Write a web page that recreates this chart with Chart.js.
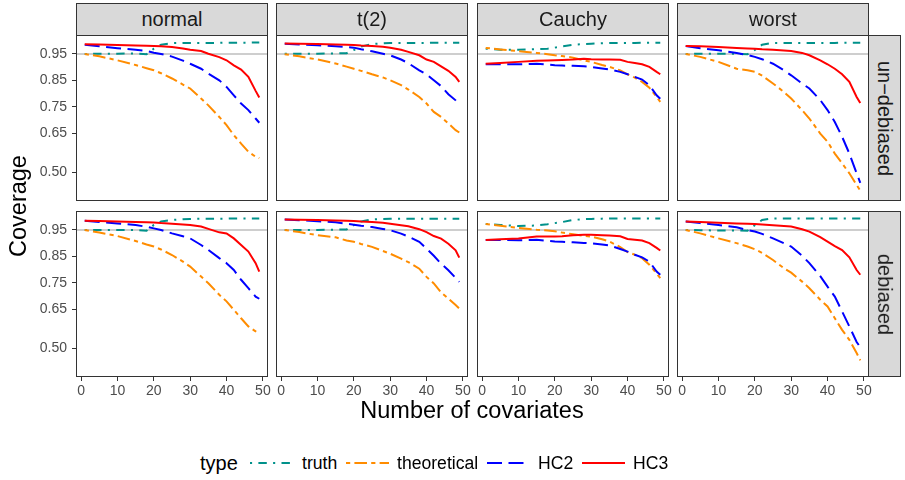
<!DOCTYPE html>
<html>
<head>
<meta charset="utf-8">
<script src="https://cdn.jsdelivr.net/npm/chart.js@4.4.0/dist/chart.umd.min.js"></script>
<style>
  body { margin: 0; background: #fff; font-family: "Liberation Sans", Arial, sans-serif; }
  #wrap { position: relative; width: 905px; height: 480px; overflow: hidden; }
  canvas { position: absolute; }
  .strip { position: absolute; box-sizing: border-box; background: #d9d9d9; border: 1px solid #333;
           display: flex; align-items: center; justify-content: center; color: #1a1a1a; font-size: 20px; }
  .vtext { transform: rotate(90deg); white-space: nowrap; }
  .lab { position: absolute; white-space: nowrap; color: #000; }
</style>
</head>
<body>
<div id="wrap"></div>
<script>
// x positions (number of covariates) at which values were read
const covariates = [1, 5, 10, 15, 18, 20, 22, 25, 28, 30, 33, 35, 38, 40, 42, 44, 46, 48, 49];
const xTicks = [0, 10, 20, 30, 40, 50];
const yTicks = [0.50, 0.65, 0.75, 0.85, 0.95];
const refLine = 0.95;

const columns = ['normal', 't(2)', 'Cauchy', 'worst'];
const rows = ['un\u2212debiased', 'debiased'];
const types = ['truth', 'theoretical', 'HC2', 'HC3'];

// un-debiased
const normalUnTruth = [.950, .951, .951, .952, .949, .970, .985, .991, .992, .992, .992, .992, .992, .993, .993, .993, .993, .994, .994];
const normalUnTheo  = [.950, .941, .926, .908, .896, .888, .877, .857, .834, .819, .781, .755, .711, .680, .642, .610, .579, .560, .555];
const normalUnHC2   = [.985, .979, .972, .966, .961, .955, .950, .940, .925, .913, .894, .875, .850, .825, .793, .762, .737, .705, .689];
const normalUnHC3   = [.987, .986, .984, .982, .981, .980, .979, .976, .971, .966, .961, .951, .938, .926, .907, .891, .863, .810, .785];

const t2UnTruth = [.951, .951, .951, .952, .953, .965, .978, .988, .990, .992, .992, .992, .992, .992, .993, .993, .993, .993, .993];
const t2UnTheo  = [.949, .941, .929, .914, .902, .894, .886, .873, .861, .850, .832, .815, .787, .762, .730, .711, .686, .661, .652];
const t2UnHC2   = [.989, .986, .983, .979, .976, .974, .968, .960, .951, .945, .929, .915, .888, .873, .850, .828, .797, .774, .756];
const t2UnHC3   = [.990, .989, .988, .986, .985, .984, .982, .980, .977, .974, .966, .958, .945, .929, .920, .903, .886, .863, .844];

const cauchyUnTruth = [.970, .966, .966, .968, .970, .974, .979, .985, .988, .989, .991, .992, .992, .992, .992, .993, .993, .993, .993];
const cauchyUnTheo  = [.973, .967, .961, .954, .949, .945, .942, .936, .926, .920, .908, .901, .888, .873, .860, .844, .822, .787, .768];
const cauchyUnHC2   = [.911, .911, .911, .913, .910, .907, .906, .905, .903, .901, .895, .891, .882, .873, .863, .853, .831, .793, .780];
const cauchyUnHC3   = [.913, .916, .920, .924, .925, .926, .927, .929, .932, .930, .929, .929, .928, .920, .916, .911, .901, .882, .873];

const worstUnTruth = [.950, .951, .951, .951, .949, .965, .985, .992, .992, .992, .992, .992, .992, .992, .992, .993, .993, .993, .993];
const worstUnTheo  = [.950, .939, .920, .894, .888, .882, .868, .838, .806, .781, .737, .705, .648, .617, .572, .535, .497, .453, .431];
const worstUnHC2   = [.980, .972, .964, .954, .946, .939, .930, .913, .888, .869, .838, .819, .775, .737, .692, .636, .572, .497, .461];
const worstUnHC3   = [.980, .979, .976, .973, .971, .970, .968, .966, .963, .961, .954, .945, .926, .911, .894, .873, .844, .787, .764];

// debiased
const normalDeTruth = [.950, .950, .950, .950, .947, .969, .982, .988, .991, .992, .993, .993, .993, .993, .994, .994, .994, .994, .994];
const normalDeTheo  = [.950, .940, .927, .908, .895, .887, .876, .855, .830, .811, .773, .748, .704, .679, .647, .615, .584, .565, .555];
const normalDeHC2   = [.985, .980, .975, .969, .962, .956, .950, .937, .926, .918, .893, .874, .843, .824, .798, .761, .729, .697, .689];
const normalDeHC3   = [.985, .984, .982, .980, .979, .978, .976, .974, .971, .969, .963, .954, .941, .937, .918, .893, .868, .824, .792];

const t2DeTruth = [.950, .950, .950, .951, .952, .968, .982, .990, .992, .993, .993, .993, .993, .993, .993, .993, .993, .993, .993];
const t2DeTheo  = [.950, .942, .930, .922, .910, .905, .897, .886, .870, .860, .841, .828, .803, .772, .747, .713, .690, .665, .652];
const t2DeHC2   = [.990, .987, .983, .979, .974, .970, .966, .961, .954, .949, .936, .925, .905, .879, .852, .822, .797, .768, .753];
const t2DeHC3   = [.990, .989, .988, .986, .985, .984, .982, .980, .977, .974, .968, .964, .953, .942, .927, .917, .898, .873, .845];

const cauchyDeTruth = [.973, .969, .965, .967, .972, .976, .980, .988, .991, .992, .993, .994, .994, .994, .994, .994, .994, .994, .994];
const cauchyDeTheo  = [.973, .966, .958, .951, .948, .945, .940, .934, .928, .925, .915, .906, .885, .866, .856, .843, .818, .785, .767];
const cauchyDeHC2   = [.912, .912, .911, .913, .909, .906, .905, .903, .901, .899, .895, .891, .878, .868, .856, .846, .830, .792, .780];
const cauchyDeHC3   = [.912, .915, .918, .925, .925, .925, .926, .930, .932, .932, .930, .929, .926, .916, .913, .910, .900, .882, .872];

const worstDeTruth = [.950, .949, .948, .948, .947, .968, .988, .994, .994, .994, .994, .994, .994, .994, .994, .994, .994, .994, .994];
const worstDeTheo  = [.950, .937, .918, .900, .887, .877, .863, .836, .805, .788, .754, .729, .685, .660, .615, .571, .533, .483, .455];
const worstDeHC2   = [.982, .976, .969, .960, .950, .944, .935, .918, .900, .887, .852, .824, .775, .735, .697, .641, .584, .525, .505];
const worstDeHC3   = [.982, .980, .977, .975, .974, .973, .971, .968, .965, .963, .953, .944, .923, .906, .889, .874, .846, .798, .780];

const panelSeries = [
  [[normalUnTruth, normalUnTheo, normalUnHC2, normalUnHC3],
   [t2UnTruth, t2UnTheo, t2UnHC2, t2UnHC3],
   [cauchyUnTruth, cauchyUnTheo, cauchyUnHC2, cauchyUnHC3],
   [worstUnTruth, worstUnTheo, worstUnHC2, worstUnHC3]],
  [[normalDeTruth, normalDeTheo, normalDeHC2, normalDeHC3],
   [t2DeTruth, t2DeTheo, t2DeHC2, t2DeHC3],
   [cauchyDeTruth, cauchyDeTheo, cauchyDeHC2, cauchyDeHC3],
   [worstDeTruth, worstDeTheo, worstDeHC2, worstDeHC3]]
];

const typeColors = ['#00918a', '#ff8c00', '#0000ff', '#ff0000'];
const typeDash = [[2.1, 6.3, 8.4, 6.3], [4.2, 4.2, 12.6, 4.2], [15, 6.5], []];

// layout
const colLeft = [76, 276, 477, 677];
const rowTop = [35, 211];
const panelW = 192, panelH = 166;
const side = 8;   // spare canvas room left/right of a panel for labels
const font = '"Liberation Sans", Arial, sans-serif';

const wrap = document.getElementById('wrap');

const framePlugin = {
  id: 'frame',
  beforeDatasetsDraw(chart) {
    const a = chart.chartArea, ctx = chart.ctx;
    const y = chart.scales.y.getPixelForValue(refLine);
    ctx.save();
    ctx.strokeStyle = '#bebebe';
    ctx.lineWidth = 1.4;
    ctx.beginPath();
    ctx.moveTo(a.left, y);
    ctx.lineTo(a.right, y);
    ctx.stroke();
    ctx.restore();
  },
  afterDraw(chart) {
    const a = chart.chartArea, ctx = chart.ctx;
    ctx.save();
    ctx.strokeStyle = '#333333';
    ctx.lineWidth = 1;
    ctx.strokeRect(Math.round(a.left) + 0.5, Math.round(a.top) + 0.5,
                   Math.round(a.right - a.left) - 1, Math.round(a.bottom - a.top) - 1);
    ctx.restore();
  }
};

function makePanel(r, c) {
  const showY = c === 0, showX = r === 1;
  const left = showY ? 0 : colLeft[c] - side;
  const width = colLeft[c] + panelW + side - left;
  const top = rowTop[r] - 2;
  const height = 2 + panelH + (showX ? 26 : 2);

  const cv = document.createElement('canvas');
  cv.width = width; cv.height = height;
  cv.style.left = left + 'px'; cv.style.top = top + 'px';
  cv.style.width = width + 'px'; cv.style.height = height + 'px';
  wrap.appendChild(cv);

  const series = panelSeries[r][c];
  // HC3 first so it is painted on top
  const datasets = [3, 2, 1, 0].map(i => ({
    label: types[i],
    data: covariates.map((x, k) => ({ x: x, y: series[i][k] })),
    borderColor: typeColors[i],
    borderDash: typeDash[i],
    borderWidth: 2,
    pointRadius: 0,
    tension: 0,
    fill: false
  }));

  const tickStyle = { font: { family: font, size: 14 }, color: '#4d4d4d' };
  new Chart(cv, {
    type: 'line',
    data: { datasets },
    options: {
      responsive: false,
      animation: false,
      devicePixelRatio: 1,
      events: [],
      layout: { padding: { left: showY ? 0 : side, right: side, top: 2, bottom: showX ? 0 : 2 } },
      plugins: { legend: { display: false }, tooltip: { enabled: false } },
      scales: {
        x: {
          type: 'linear', min: -1.4, max: 51.4, display: showX,
          afterBuildTicks: s => { s.ticks = xTicks.map(v => ({ value: v })); },
          afterFit: s => {
            s.height = showX ? 26 : 0;
            s.paddingLeft = 0; s.paddingRight = 0;
          },
          grid: { display: true, drawOnChartArea: false, drawTicks: true, tickLength: 4, tickColor: '#333333' },
          border: { display: false },
          ticks: Object.assign({ padding: 2, maxRotation: 0, autoSkip: false, callback: v => String(v) }, tickStyle)
        },
        y: {
          type: 'linear', min: 0.392, max: 1.022, display: showY,
          afterBuildTicks: s => { s.ticks = yTicks.map(v => ({ value: v })); },
          afterFit: s => {
            s.width = showY ? 76 : 0;
            s.paddingTop = 0; s.paddingBottom = 0;
          },
          grid: { display: true, drawOnChartArea: false, drawTicks: true, tickLength: 4, tickColor: '#333333' },
          border: { display: false },
          ticks: Object.assign({ padding: 5, autoSkip: false, callback: v => v.toFixed(2) }, tickStyle)
        }
      }
    },
    plugins: [framePlugin]
  });
}

for (let r = 0; r < 2; r++) for (let c = 0; c < 4; c++) makePanel(r, c);

// facet strips
columns.forEach((name, c) => {
  const d = document.createElement('div');
  d.className = 'strip';
  d.style.left = colLeft[c] + 'px'; d.style.top = '3px';
  d.style.width = panelW + 'px'; d.style.height = '33px';
  d.textContent = name;
  wrap.appendChild(d);
});
rows.forEach((name, r) => {
  const d = document.createElement('div');
  d.className = 'strip';
  d.style.left = (colLeft[3] + panelW - 1) + 'px'; d.style.top = rowTop[r] + 'px';
  d.style.width = '33px'; d.style.height = panelH + 'px';
  const s = document.createElement('span');
  s.className = 'vtext';
  s.textContent = name;
  d.appendChild(s);
  wrap.appendChild(d);
});

// axis titles
function label(text, x, y, size, extra) {
  const d = document.createElement('div');
  d.className = 'lab';
  d.style.fontSize = size + 'px';
  d.style.left = x + 'px'; d.style.top = y + 'px';
  d.textContent = text;
  if (extra) extra(d);
  wrap.appendChild(d);
  return d;
}
label('Number of covariates', 472, 410, 23.5, d => { d.style.transform = 'translate(-50%, -50%)'; });
label('Coverage', 18, 206, 23.5, d => { d.style.transform = 'translate(-50%, -50%) rotate(-90deg)'; });

// legend
label('type', 200, 463, 20, d => { d.style.transform = 'translateY(-50%)'; });
const keyLeft = [250, 346, 487, 582];
const textLeft = [302, 397, 538, 633];
const svgNS = 'http://www.w3.org/2000/svg';
const svg = document.createElementNS(svgNS, 'svg');
svg.setAttribute('width', '905'); svg.setAttribute('height', '480');
svg.style.position = 'absolute'; svg.style.left = '0'; svg.style.top = '0';
types.forEach((t, i) => {
  const ln = document.createElementNS(svgNS, 'line');
  ln.setAttribute('x1', keyLeft[i]); ln.setAttribute('x2', keyLeft[i] + 43);
  ln.setAttribute('y1', 463); ln.setAttribute('y2', 463);
  ln.setAttribute('stroke', typeColors[i]);
  ln.setAttribute('stroke-width', 2);
  if (typeDash[i].length) ln.setAttribute('stroke-dasharray', typeDash[i].join(' '));
  svg.appendChild(ln);
  label(t, textLeft[i], 463, 17.6, d => { d.style.transform = 'translateY(-50%)'; });
});
wrap.appendChild(svg);
</script>
</body>
</html>
